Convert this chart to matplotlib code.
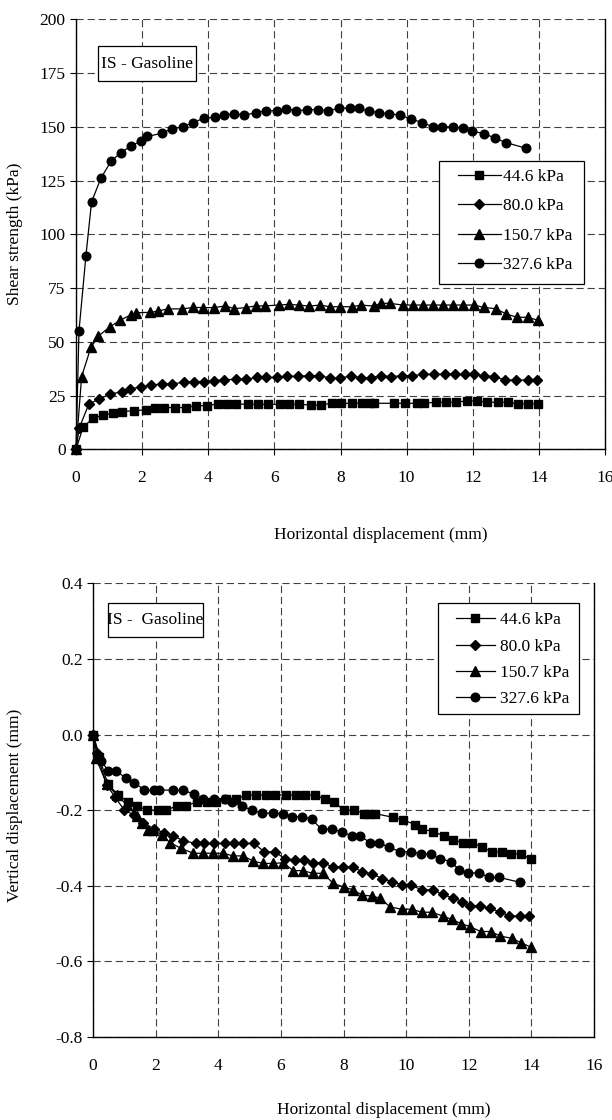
import matplotlib
matplotlib.use("Agg")
import matplotlib.pyplot as plt
from matplotlib.patches import Rectangle

plt.rcParams['font.family'] = ['Liberation Serif', 'DejaVu Serif']
plt.rcParams['axes.unicode_minus'] = False
plt.rcParams['font.size'] = 12.5

labels = ["44.6 kPa", "80.0 kPa", "150.7 kPa", "327.6 kPa"]
markers = ["s", "D", "^", "o"]
msizes = [5.4, 5.0, 7.2, 6.2]

# --- Shear strength vs horizontal displacement ---
shear_x_446 = [0, 0.22, 0.52, 0.83, 1.13, 1.40, 1.76, 2.11, 2.39, 2.67, 2.99, 3.32, 3.63, 3.95, 4.30,
               4.57, 4.84, 5.20, 5.50, 5.80, 6.16, 6.45, 6.74, 7.10, 7.40, 7.73, 8.03, 8.34, 8.66, 8.90,
               9.00, 9.63, 9.95, 10.30, 10.53, 10.88, 11.18, 11.48, 11.82, 12.12, 12.42, 12.75, 13.07,
               13.37, 13.68, 13.98]
shear_y_446 = [0, 10.5, 14.4, 16.0, 16.7, 17.5, 18.0, 18.3, 19.4, 19.4, 19.4, 19.4, 20.3, 20.3, 21.1,
               21.1, 21.1, 20.9, 20.9, 20.9, 20.9, 20.9, 20.9, 20.6, 20.6, 21.4, 21.4, 21.4, 21.4, 21.4,
               21.4, 21.4, 21.4, 21.4, 21.4, 21.9, 21.9, 21.9, 22.5, 22.5, 21.9, 21.9, 21.9, 21.1, 21.1, 21.1]

shear_x_800 = [0, 0.10, 0.39, 0.71, 1.03, 1.40, 1.63, 1.97, 2.27, 2.61, 2.91, 3.26, 3.57, 3.88, 4.18,
               4.48, 4.84, 5.14, 5.46, 5.76, 6.08, 6.39, 6.71, 7.05, 7.36, 7.67, 7.97, 8.31, 8.62, 8.92,
               9.22, 9.52, 9.85, 10.15, 10.50, 10.84, 11.15, 11.46, 11.78, 12.04, 12.35, 12.65, 12.99,
               13.30, 13.66, 13.93]
shear_y_800 = [0, 10.0, 21.1, 23.4, 25.7, 26.8, 28.0, 29.1, 29.9, 30.4, 30.4, 31.2, 31.5, 31.5, 32.0,
               32.3, 32.6, 32.6, 33.4, 33.4, 33.4, 33.9, 33.9, 34.2, 34.2, 33.3, 33.0, 34.2, 33.3, 33.3,
               34.2, 33.8, 34.2, 34.2, 34.9, 34.9, 34.9, 34.9, 34.9, 34.9, 34.2, 33.8, 32.2, 32.2, 32.2, 32.2]

shear_x_1507 = [0, 0.17, 0.45, 0.68, 1.03, 1.34, 1.66, 1.80, 2.24, 2.49, 2.77, 3.22, 3.55, 3.85, 4.18,
                4.52, 4.78, 5.13, 5.43, 5.72, 6.13, 6.43, 6.73, 7.06, 7.38, 7.68, 7.98, 8.36, 8.62, 9.01,
                9.22, 9.49, 9.88, 10.20, 10.50, 10.80, 11.10, 11.40, 11.70, 12.04, 12.33, 12.69, 13.02,
                13.34, 13.66, 13.96]
shear_y_1507 = [0, 33.8, 47.4, 52.7, 57.0, 60.1, 62.5, 63.5, 63.7, 64.3, 65.3, 65.3, 66.0, 65.9, 65.9,
                66.7, 65.4, 65.9, 66.7, 66.7, 67.1, 67.4, 67.1, 66.6, 67.1, 66.3, 66.3, 66.3, 67.1, 66.6,
                67.9, 67.9, 67.1, 67.1, 67.1, 67.1, 67.1, 67.1, 67.1, 67.1, 66.0, 65.4, 62.9, 61.4, 61.4, 60.1]

shear_x_3276 = [0, 0.09, 0.30, 0.47, 0.75, 1.06, 1.36, 1.66, 1.97, 2.16, 2.59, 2.90, 3.23, 3.55, 3.87,
                4.20, 4.47, 4.78, 5.09, 5.44, 5.74, 6.09, 6.36, 6.66, 6.98, 7.32, 7.63, 7.95, 8.29, 8.55,
                8.86, 9.17, 9.47, 9.80, 10.13, 10.47, 10.79, 11.08, 11.39, 11.69, 11.97, 12.35, 12.68,
                13.02, 13.62]
shear_y_3276 = [0, 55, 90, 115, 126, 134, 138, 141, 143.5, 145.5, 147, 149, 150, 152, 154,
                154.5, 155.5, 156, 155.5, 156.5, 157.5, 157.5, 158.5, 157.3, 158, 158, 157.3, 158.7, 158.7, 158.6,
                157.3, 156.6, 156, 155.5, 153.6, 152, 150, 150, 150, 149.3, 148, 146.8, 144.7,
                142.6, 140]

# --- Vertical vs horizontal displacement ---
vert_x_446 = [0, 0.20, 0.47, 0.80, 1.13, 1.41, 1.73, 2.06, 2.34, 2.67, 2.97, 3.31, 3.63, 3.93, 4.25,
              4.57, 4.88, 5.20, 5.51, 5.81, 6.17, 6.49, 6.78, 7.10, 7.41, 7.71, 8.00, 8.35, 8.67, 8.82,
              9.00, 9.59, 9.91, 10.28, 10.52, 10.87, 11.21, 11.51, 11.81, 12.11, 12.43, 12.75, 13.05,
              13.35, 13.66, 13.98]
vert_y_446 = [0, -0.06, -0.13, -0.16, -0.178, -0.189, -0.2, -0.2, -0.2, -0.189, -0.189, -0.178, -0.178,
              -0.178, -0.171, -0.171, -0.16, -0.16, -0.16, -0.16, -0.16, -0.16, -0.16, -0.16, -0.171,
              -0.178, -0.2, -0.2, -0.209, -0.209, -0.209, -0.219, -0.226, -0.238, -0.25, -0.257, -0.268,
              -0.279, -0.286, -0.286, -0.298, -0.31, -0.31, -0.316, -0.316, -0.329]

vert_x_800 = [0, 0.12, 0.44, 0.70, 1.00, 1.31, 1.61, 1.95, 2.28, 2.57, 2.88, 3.29, 3.55, 3.87, 4.22,
              4.50, 4.80, 5.14, 5.47, 5.81, 6.13, 6.45, 6.74, 7.02, 7.34, 7.65, 7.97, 8.29, 8.60, 8.92,
              9.24, 9.56, 9.88, 10.15, 10.50, 10.85, 11.17, 11.49, 11.80, 12.04, 12.36, 12.68, 13.00,
              13.30, 13.64, 13.94]
vert_y_800 = [0, -0.05, -0.134, -0.165, -0.2, -0.213, -0.233, -0.25, -0.26, -0.268, -0.281, -0.288,
              -0.288, -0.288, -0.288, -0.288, -0.288, -0.288, -0.31, -0.311, -0.328, -0.332, -0.332,
              -0.339, -0.339, -0.35, -0.35, -0.35, -0.363, -0.369, -0.381, -0.389, -0.398, -0.398,
              -0.411, -0.411, -0.423, -0.432, -0.442, -0.453, -0.453, -0.46, -0.469, -0.48, -0.48, -0.48]

vert_x_1507 = [0, 0.10, 0.44, 0.76, 1.08, 1.40, 1.56, 1.77, 1.93, 2.20, 2.46, 2.81, 3.20, 3.50, 3.83,
               4.15, 4.48, 4.80, 5.12, 5.44, 5.76, 6.07, 6.40, 6.70, 7.02, 7.34, 7.68, 8.00, 8.31, 8.60,
               8.90, 9.17, 9.49, 9.86, 10.18, 10.50, 10.82, 11.17, 11.46, 11.75, 12.04, 12.38, 12.70,
               13.01, 13.37, 13.68, 14.00]
vert_y_1507 = [0, -0.063, -0.132, -0.16, -0.186, -0.216, -0.235, -0.253, -0.253, -0.265, -0.286, -0.301,
               -0.314, -0.314, -0.314, -0.314, -0.321, -0.321, -0.335, -0.341, -0.341, -0.339, -0.36,
               -0.36, -0.367, -0.367, -0.394, -0.403, -0.411, -0.425, -0.427, -0.433, -0.456, -0.462,
               -0.462, -0.47, -0.47, -0.48, -0.489, -0.5, -0.508, -0.521, -0.521, -0.533, -0.539,
               -0.551, -0.563]

vert_x_3276 = [0, 0.26, 0.49, 0.72, 1.04, 1.32, 1.64, 1.96, 2.12, 2.55, 2.87, 3.24, 3.52, 3.87, 4.23,
               4.45, 4.75, 5.07, 5.41, 5.76, 6.06, 6.37, 6.66, 6.98, 7.30, 7.62, 7.94, 8.26, 8.53, 8.85,
               9.13, 9.45, 9.81, 10.16, 10.48, 10.78, 11.08, 11.42, 11.70, 11.99, 12.34, 12.66, 12.98, 13.64]
vert_y_3276 = [0, -0.07, -0.096, -0.096, -0.114, -0.127, -0.147, -0.147, -0.147, -0.147, -0.147, -0.158,
               -0.171, -0.17, -0.171, -0.178, -0.189, -0.2, -0.208, -0.208, -0.209, -0.217, -0.218,
               -0.224, -0.25, -0.25, -0.257, -0.268, -0.268, -0.286, -0.286, -0.298, -0.31, -0.31,
               -0.316, -0.316, -0.328, -0.336, -0.358, -0.366, -0.366, -0.378, -0.378, -0.391]

shear_series = [(shear_x_446, shear_y_446), (shear_x_800, shear_y_800),
                (shear_x_1507, shear_y_1507), (shear_x_3276, shear_y_3276)]
vert_series = [(vert_x_446, vert_y_446), (vert_x_800, vert_y_800),
               (vert_x_1507, vert_y_1507), (vert_x_3276, vert_y_3276)]

W, H = 612, 1120
fig = plt.figure(figsize=(W / 100, H / 100), dpi=100)


def px_axes(x0, x1, ytop, ybot):
    return fig.add_axes([x0 / W, 1 - ybot / H, (x1 - x0) / W, (ybot - ytop) / H])


def style_axes(ax):
    ax.grid(True, color='0.25', linestyle=(0, (6.5, 3.5)), linewidth=0.8)
    ax.set_axisbelow(True)
    ax.spines['top'].set_visible(False)
    for s in ['left', 'bottom', 'right']:
        ax.spines[s].set_linewidth(1.0)
    ax.tick_params(direction='out', length=4, width=0.8, colors='black', labelsize=12.5)


def box(ax, bx, by, bw, bh):
    ax.add_patch(Rectangle((bx, by), bw, bh, transform=ax.transAxes, fill=True,
                           facecolor='white', edgecolor='black', linewidth=0.9, zorder=5))


# top chart
ax1 = px_axes(76, 605, 19.3, 449.3)
style_axes(ax1)
for (xs, ys), lab, m, ms in zip(shear_series, labels, markers, msizes):
    ax1.plot(xs, ys, color='black', linewidth=0.9, marker=m, markersize=ms,
             markerfacecolor='black', markeredgecolor='black', label=lab, clip_on=False, zorder=3)
ax1.set_xlim(0, 16)
ax1.set_ylim(0, 200)
ax1.set_xticks(range(0, 17, 2))
ax1.set_yticks(range(0, 201, 25))
ax1.tick_params(axis='x', pad=11)

box(ax1, 0.0416, 0.8565, 0.1852, 0.0814)
ax1.text(0.1342, 0.8972, "IS - Gasoline", transform=ax1.transAxes, ha='center', va='center',
         fontsize=12.5, zorder=6)
box(ax1, 0.6862, 0.3844, 0.2741, 0.2868)
ax1.legend(loc='upper left', bbox_to_anchor=(0.7221, 0.652), frameon=False, borderpad=0,
           handlelength=2.45, handletextpad=0.15, labelspacing=0.76, fontsize=12.5,
           borderaxespad=0).set_zorder(7)

# bottom chart
ax2 = px_axes(93, 594, 583.3, 1037)
style_axes(ax2)
for (xs, ys), lab, m, ms in zip(vert_series, labels, markers, msizes):
    ax2.plot(xs, ys, color='black', linewidth=0.9, marker=m, markersize=ms,
             markerfacecolor='black', markeredgecolor='black', label=lab, clip_on=False, zorder=3)
ax2.set_xlim(0, 16)
ax2.set_ylim(-0.8, 0.4)
ax2.set_xticks(range(0, 17, 2))
ax2.set_yticks([0.4, 0.2, 0.0, -0.2, -0.4, -0.6, -0.8])
ax2.set_yticklabels(["0.4", "0.2", "0.0", "-0.2", "-0.4", "-0.6", "-0.8"])
ax2.tick_params(axis='x', length=0, pad=15)

box(ax2, 0.0299, 0.8816, 0.1897, 0.075)
ax2.text(0.1248, 0.9191, "IS -  Gasoline", transform=ax2.transAxes, ha='center', va='center',
         fontsize=12.5, zorder=6)
box(ax2, 0.6886, 0.7119, 0.2815, 0.2447)
ax2.legend(loc='upper left', bbox_to_anchor=(0.724, 0.936), frameon=False, borderpad=0,
           handlelength=2.25, handletextpad=0.3, labelspacing=0.58, fontsize=12.5,
           borderaxespad=0).set_zorder(7)

# axis titles
fig.text(15 / W, 1 - 234 / H, "Shear strength (kPa)", rotation=90, ha='center', va='center', fontsize=12.5)
fig.text(381 / W, 1 - 535 / H, "Horizontal displacement (mm)", ha='center', va='center', fontsize=12.5)
fig.text(15 / W, 1 - 805 / H, "Vertical displacement (mm)", rotation=90, ha='center', va='center', fontsize=12.5)
fig.text(384 / W, 1 - 1110 / H, "Horizontal displacement (mm)", ha='center', va='center', fontsize=12.5)

fig.savefig("out.png", dpi=100)
